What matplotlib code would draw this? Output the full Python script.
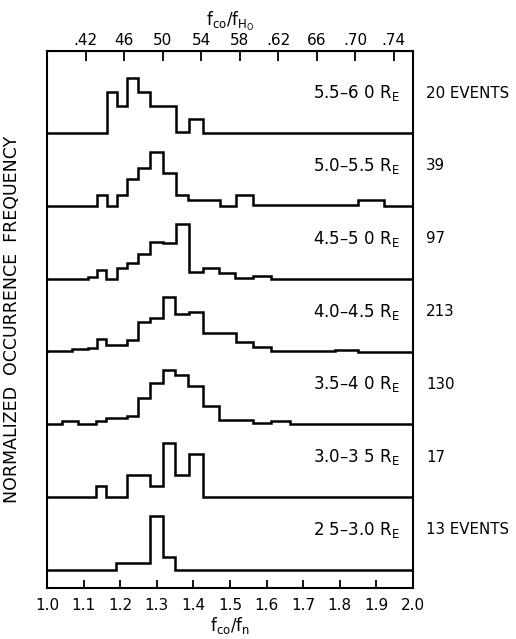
import matplotlib
matplotlib.use('Agg')
import matplotlib.pyplot as plt
import numpy as np

plt.rcParams['font.family'] = ['DejaVu Sans']
plt.rcParams['mathtext.fontset'] = 'dejavusans'

# ---------------- data (top panel first) ----------------
range_labels = [r'5.5–6 0 R$_\mathrm{E}$', r'5.0–5.5 R$_\mathrm{E}$', r'4.5–5 0 R$_\mathrm{E}$',
                r'4.0–4.5 R$_\mathrm{E}$', r'3.5–4 0 R$_\mathrm{E}$', r'3.0–3 5 R$_\mathrm{E}$',
                r'2 5–3.0 R$_\mathrm{E}$']
event_counts = ['20 EVENTS', '39', '97', '213', '130', '17', '13 EVENTS']

edges_55_60 = [1.0, 1.163, 1.190, 1.219, 1.249, 1.281, 1.352, 1.388, 1.427, 2.0]
freq_55_60 = [0, 41, 27, 55, 41, 27, 1, 14, 0]

edges_50_55 = [1.0, 1.136, 1.163, 1.190, 1.219, 1.249, 1.281, 1.316, 1.352, 1.386,
               1.473, 1.516, 1.562, 1.849, 1.922, 2.0]
freq_50_55 = [0, 11, 0, 11, 27, 38, 54, 33, 11, 6, 0, 11, 1, 6, 0]

edges_45_50 = [1.0, 1.113, 1.136, 1.161, 1.190, 1.219, 1.249, 1.281, 1.316, 1.352,
               1.388, 1.427, 1.471, 1.514, 1.562, 1.611, 2.0]
freq_45_50 = [0, 2, 9, 0, 11, 16, 25, 37, 36, 55, 7, 11, 6, 1, 3, 0]

edges_40_45 = [1.0, 1.067, 1.113, 1.136, 1.161, 1.219, 1.249, 1.281, 1.316, 1.351,
               1.388, 1.426, 1.516, 1.562, 1.612, 1.787, 1.849, 2.0]
freq_40_45 = [1, 3, 4, 12.5, 7, 12, 29.5, 34, 55, 38, 40, 18.5, 10, 5, 1, 2, 0]

edges_35_40 = [1.0, 1.040, 1.086, 1.134, 1.161, 1.219, 1.249, 1.281, 1.316, 1.350,
               1.386, 1.427, 1.471, 1.562, 1.612, 1.664, 2.0]
freq_35_40 = [0, 3, 0, 3, 6, 8.5, 26, 41, 54.5, 49.5, 38.5, 18.5, 4.5, 1, 3, 0]

edges_30_35 = [1.0, 1.134, 1.161, 1.219, 1.281, 1.316, 1.350, 1.388, 1.427, 2.0]
freq_30_35 = [0, 11, 0, 22, 11, 54, 22, 43.5, 0]

edges_25_30 = [1.0, 1.189, 1.281, 1.316, 1.350, 2.0]
freq_25_30 = [0, 6.7, 54, 13, 0]

bottom_ticks = [1.0, 1.1, 1.2, 1.3, 1.4, 1.5, 1.6, 1.7, 1.8, 1.9, 2.0]
bottom_labels = ['1.0', '1.1', '1.2', '1.3', '1.4', '1.5', '1.6', '1.7', '1.8', '1.9', '2.0']
top_ticks = [0.42, 0.46, 0.50, 0.54, 0.58, 0.62, 0.66, 0.70, 0.74]
top_labels = ['.42', '46', '50', '54', '58', '.62', '66', '.70', '.74']
ratio_top = 0.38  # f_co/f_Ho = ratio * f_co/f_n

panels = [(edges_55_60, freq_55_60), (edges_50_55, freq_50_55), (edges_45_50, freq_45_50),
          (edges_40_45, freq_40_45), (edges_35_40, freq_35_40), (edges_30_35, freq_30_35),
          (edges_25_30, freq_25_30)]

# ---------------- figure ----------------
W, H = 516, 639
fig = plt.figure(figsize=(W / 100, H / 100), dpi=100)
ax = fig.add_axes([47 / W, 51 / H, 366 / W, 537 / H])
ax.set_xlim(1.0, 2.0)
ax.set_ylim(0, 537)

n = len(panels)
first_base = 18
spacing = 72.8
for j, ((edges, freq), rl, ec) in enumerate(zip(panels, range_labels, event_counts)):
    k = n - 1 - j
    base = first_base + spacing * k
    ax.stairs(np.array(freq, dtype=float) + base, edges, baseline=base,
              color='black', lw=1.8)
    ax.text(1.9645, base + 40, rl, ha='right', va='center', fontsize=12)
    ax.text(2.0355, base + 40, ec, ha='left', va='center', fontsize=10.8, clip_on=False)

for s in ax.spines.values():
    s.set_linewidth(1.5)
ax.set_yticks([])
ax.set_xticks(bottom_ticks, labels=bottom_labels)
ax.tick_params(axis='x', direction='in', length=6, width=1.3, pad=7, labelsize=11)
ax.set_xlabel(r'f$_{\mathrm{co}}$/f$_\mathrm{n}$', fontsize=12, labelpad=2)
ax.set_ylabel('NORMALIZED  OCCURRENCE  FREQUENCY', fontsize=12.5, labelpad=19)

sec = ax.secondary_xaxis('top', functions=(lambda x: x * ratio_top, lambda x: x / ratio_top))
sec.set_xticks(top_ticks, labels=top_labels)
sec.tick_params(direction='in', length=7, width=1.3, pad=2, labelsize=11)
sec.set_xlabel(r'f$_{\mathrm{co}}$/f$_{\mathrm{H_O}}$', fontsize=12, labelpad=5)

fig.savefig('out.png', dpi=100)
